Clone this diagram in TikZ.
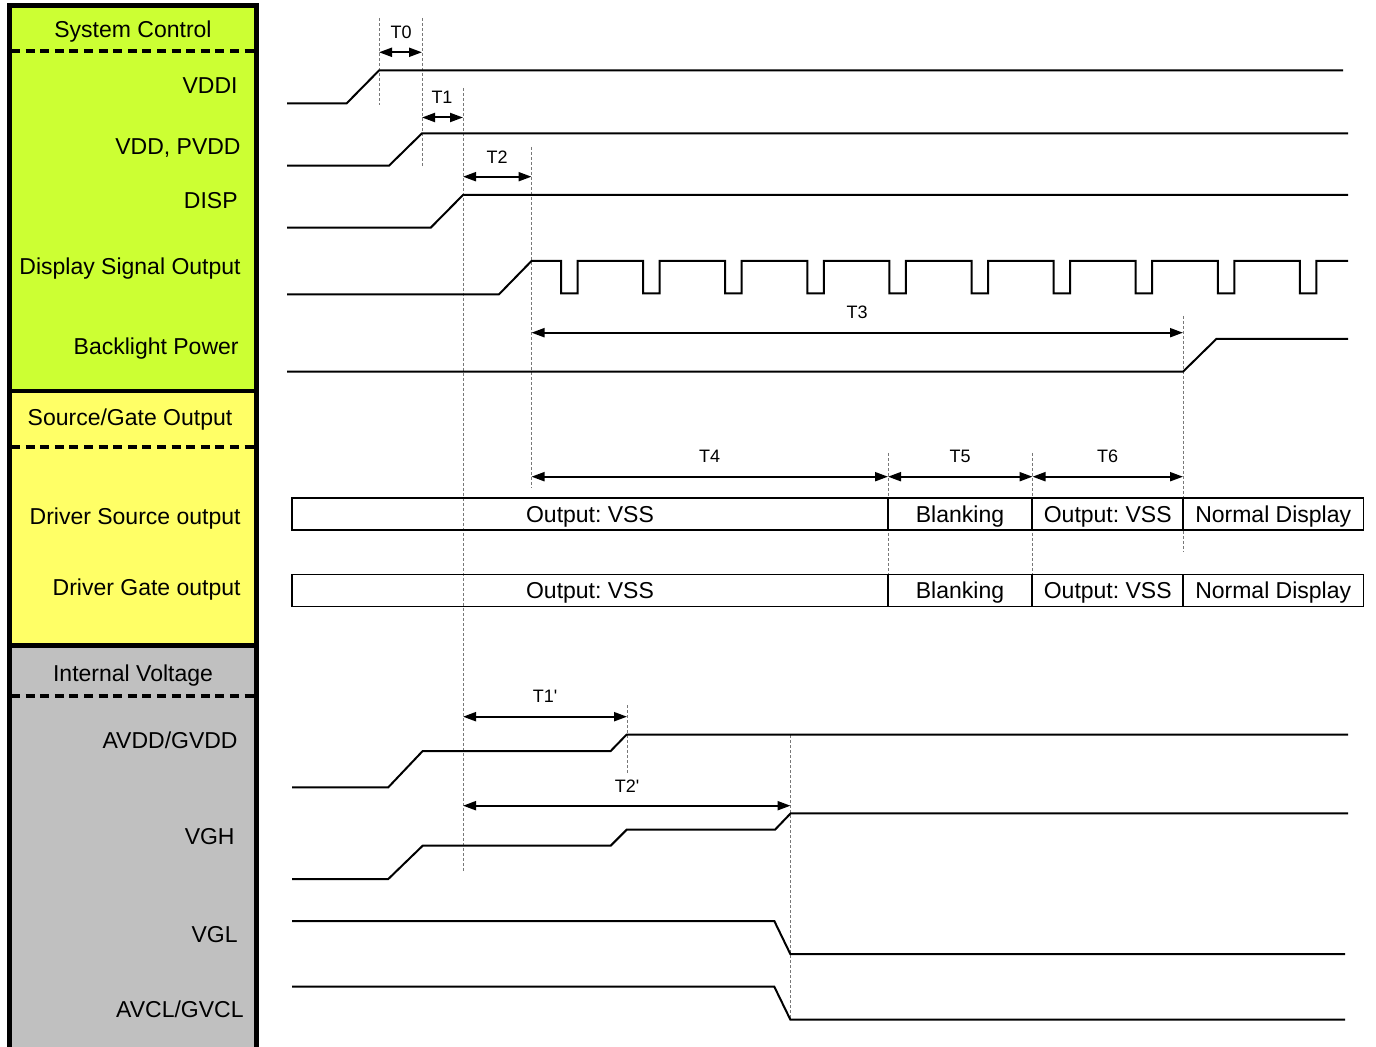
\documentclass[tikz,border=0pt]{standalone}
\usepackage{fontspec}
\setmainfont{Liberation Sans}
\usetikzlibrary{arrows.meta}
\definecolor{sysgreen}{RGB}{204,255,51}
\definecolor{srcyellow}{RGB}{255,255,102}
\definecolor{intgrey}{RGB}{192,192,192}
\definecolor{guidegrey}{RGB}{120,120,120}
\frenchspacing
\begin{document}
\begin{tikzpicture}[x=0.5pt,y=-0.5pt,
  sig/.style={line width=1pt, line join=miter},
  guide/.style={draw=guidegrey, line width=0.5pt, dash pattern=on 1.5pt off 1pt},
  dim/.style={line width=1pt, {Triangle[length=6.5pt,width=4.5pt]}-{Triangle[length=6.5pt,width=4.5pt]}},
  lbl/.style={font=\fontsize{11.5pt}{13pt}\selectfont, inner sep=0pt},
  tlbl/.style={font=\fontsize{9pt}{10pt}\selectfont, inner sep=0pt, anchor=base},
  cell/.style={draw, line width=0.8pt, inner sep=0pt, minimum height=16pt, text height=8.2pt, text depth=0pt, font=\fontsize{11.5pt}{13pt}\selectfont},
  panelline/.style={line width=2.25pt},
  sep/.style={line width=2pt, dash pattern=on 4.5pt off 2.8pt}
]
\useasboundingbox (0,0) rectangle (1376,1047);
% ---------- left panel ----------
\fill[sysgreen] (9.5,5.5) rectangle (256.5,391);
\fill[srcyellow] (9.5,391) rectangle (256.5,645.5);
\fill[intgrey] (9.5,645.5) rectangle (256.5,1060);
\draw[panelline] (9.5,1060) -- (9.5,5.5) -- (256.5,5.5) -- (256.5,1060);
\draw[panelline] (9.5,391) -- (256.5,391);
\draw[panelline] (9.5,645.5) -- (256.5,645.5);
\draw[sep] (11,50.7) -- (255,50.7);
\draw[sep] (11,447) -- (255,447);
\draw[sep] (11,696) -- (255,696);

\node[lbl, anchor=base] (hsys) at (133,37.3) {System Control};
\node[lbl, anchor=base east] (lvddi) at (238,93.3) {VDDI};
\node[lbl, anchor=base east] (lvdd) at (241,154.3) {VDD, PVDD};
\node[lbl, anchor=base east] (ldisp) at (238,208.3) {DISP};
\node[lbl, anchor=base east] (ldso) at (241,274.3) {Display Signal Output};
\node[lbl, anchor=base east] (lbl) at (239,355) {Backlight Power};
\node[lbl, anchor=base] (hsrc) at (130,425.7) {Source/Gate Output};
\node[lbl, anchor=base east] (ldrs) at (241,524.3) {Driver Source output};
\node[lbl, anchor=base east] (ldrg) at (241,596) {Driver Gate output};
\node[lbl, anchor=base] (hint) at (133,681.7) {Internal Voltage};
\node[lbl, anchor=base east] (lavdd) at (238,748.3) {AVDD/GVDD};
\node[lbl, anchor=base east] (lvgh) at (235,844) {VGH};
\node[lbl, anchor=base east] (lvgl) at (238,942.7) {VGL};
\node[lbl, anchor=base east] (lavcl) at (244,1017.7) {AVCL/GVCL};

% ---------- guide lines ----------
\draw[guide] (379,18) -- (379,105);
\draw[guide] (422,18) -- (422,167);
\draw[guide] (463,88) -- (463,873);
\draw[guide] (531.5,147) -- (531.5,488);
\draw[guide] (1183,316) -- (1183,552);
\draw[guide] (888,453) -- (888,574);
\draw[guide] (1032.5,453) -- (1032.5,574);
\draw[guide] (627,705) -- (627,773);
\draw[guide] (790.5,735) -- (790.5,1020);

% ---------- signals ----------
\draw[sig] (287,103.3) -- (346.7,103.3) -- (379,70.5) -- (1343,70.5);
\draw[sig] (287,165.7) -- (389,165.7) -- (422,133.3) -- (1348,133.3);
\draw[sig] (287,227.7) -- (430.7,227.7) -- (463,195) -- (1348,195);
\draw[sig] (287,294.3) -- (499,294.3) -- (531.5,261)
  \foreach \i in {0,...,9} { -- ({561+82.1*\i},261) -- ({561+82.1*\i},293.5) -- ({577.5+82.1*\i},293.5) -- ({577.5+82.1*\i},261) }
  -- (1348,261);
\draw[sig] (287,371.7) -- (1183,371.7) -- (1216.3,339) -- (1348,339);

\draw[sig] (292,787.3) -- (388.3,787.3) -- (422.7,751) -- (610.7,751) -- (626.7,734.5) -- (1348,734.5);
\draw[sig] (292,879) -- (388.3,879) -- (422.7,845.7) -- (610.7,845.7) -- (626.7,829.7) -- (775,829.7) -- (790.7,813.3) -- (1348,813.3);
\draw[sig] (292,921) -- (774.3,921) -- (790.3,954) -- (1345,954);
\draw[sig] (292,986.7) -- (774.3,986.7) -- (790.3,1019.5) -- (1345,1019.5);

% ---------- output cells ----------
\node[cell, minimum width=298pt] (s1) at (590,514.2) {Output: VSS};
\node[cell, minimum width=72pt] (s2) at (960,514.2) {Blanking};
\node[cell, minimum width=75.5pt] (s3) at (1107.75,514.2) {Output: VSS};
\node[cell, minimum width=90.15pt] (s4) at (1273.2,514.2) {Normal Display};
\node[cell, minimum width=298pt] (g1) at (590,590.4) {Output: VSS};
\node[cell, minimum width=72pt] (g2) at (960,590.4) {Blanking};
\node[cell, minimum width=75.5pt] (g3) at (1107.75,590.4) {Output: VSS};
\node[cell, minimum width=90.15pt] (g4) at (1273.2,590.4) {Normal Display};

% ---------- dimension arrows ----------
\coordinate (t0a) at (379,52.3);   \coordinate (t0b) at (422,52.3);
\coordinate (t1a) at (422,117.5);  \coordinate (t1b) at (463,117.5);
\coordinate (t2a) at (463,176.7);  \coordinate (t2b) at (531.5,176.7);
\coordinate (t3a) at (531.5,332.7);\coordinate (t3b) at (1183,332.7);
\coordinate (t4a) at (531.5,476.7);\coordinate (t4b) at (888,476.7);
\coordinate (t5a) at (888,476.7);  \coordinate (t5b) at (1032.5,476.7);
\coordinate (t6a) at (1032.5,476.7);\coordinate (t6b) at (1183,476.7);
\coordinate (t1pa) at (463,716.7); \coordinate (t1pb) at (627,716.7);
\coordinate (t2pa) at (463,805.7); \coordinate (t2pb) at (790.5,805.7);
\draw[dim] (t0a) -- (t0b);
\draw[dim] (t1a) -- (t1b);
\draw[dim] (t2a) -- (t2b);
\draw[dim] (t3a) -- (t3b);
\draw[dim] (t4a) -- (t4b);
\draw[dim] (t5a) -- (t5b);
\draw[dim] (t6a) -- (t6b);
\draw[dim] (t1pa) -- (t1pb);
\draw[dim] (t2pa) -- (t2pb);

\node[tlbl] (lt0) at (401,38.3) {T0};
\node[tlbl] (lt1) at (442,103.3) {T1};
\node[tlbl] (lt2) at (497,163.3) {T2};
\node[tlbl] (lt3) at (857,318.5) {T3};
\node[tlbl] (lt4) at (709.5,462.3) {T4};
\node[tlbl] (lt5) at (960,462.3) {T5};
\node[tlbl] (lt6) at (1107.5,462.3) {T6};
\node[tlbl] (lt1p) at (545,702) {T1\textquotesingle};
\node[tlbl] (lt2p) at (627,792.3) {T2\textquotesingle};
\end{tikzpicture}
\end{document}
